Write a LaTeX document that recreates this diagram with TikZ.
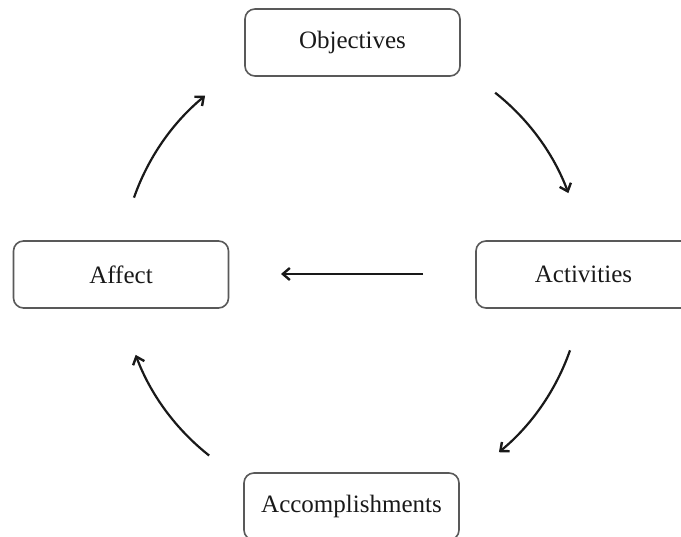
\documentclass[tikz,border=0pt]{standalone}
\usepackage{fontspec}
\setmainfont{Liberation Serif}
\usetikzlibrary{arrows.meta,calc}
\begin{document}
\begin{tikzpicture}[x=1pt,y=1pt,
  box/.style={draw=black!65, line width=1.6pt, rounded corners=10pt,
    minimum width=215pt, minimum height=67pt, inner sep=0pt,
    font=\fontsize{25}{30}\selectfont, text=black!90},
  arr/.style={line width=2.2pt, black!90, -{Straight Barb[length=7pt,width=12pt,line width=2.4pt]}}]
\clip (0,0) rectangle (681,537);
\node[box] (obj) at (352.5,494.5) {Objectives};
\node[box] (act) at (583.5,262.5) {Activities};
\node[box] (aff) at (121,262.5) {Affect};
\node[box] (acc) at (351.5,30.5) {Accomplishments};
\coordinate (ctr) at (352,263);
\coordinate (s1) at ($(ctr)+(51.7:231)$);
\coordinate (s2) at ($(ctr)+(-19.3:231)$);
\coordinate (s3) at ($(ctr)+(-128.2:231)$);
\coordinate (s4) at ($(ctr)+(160.7:231)$);
\draw[arr] (s1) arc[start angle=51.7, end angle=20.5, radius=231];
\draw[arr] (s2) arc[start angle=-19.3, end angle=-50.5, radius=231];
\draw[arr] (s3) arc[start angle=-128.2, end angle=-159.5, radius=231];
\draw[arr] (s4) arc[start angle=160.7, end angle=129.5, radius=231];
\coordinate (h1) at (423,263);
\coordinate (h2) at (281,263);
\draw[arr] (h1) -- (h2);
\end{tikzpicture}
\end{document}
